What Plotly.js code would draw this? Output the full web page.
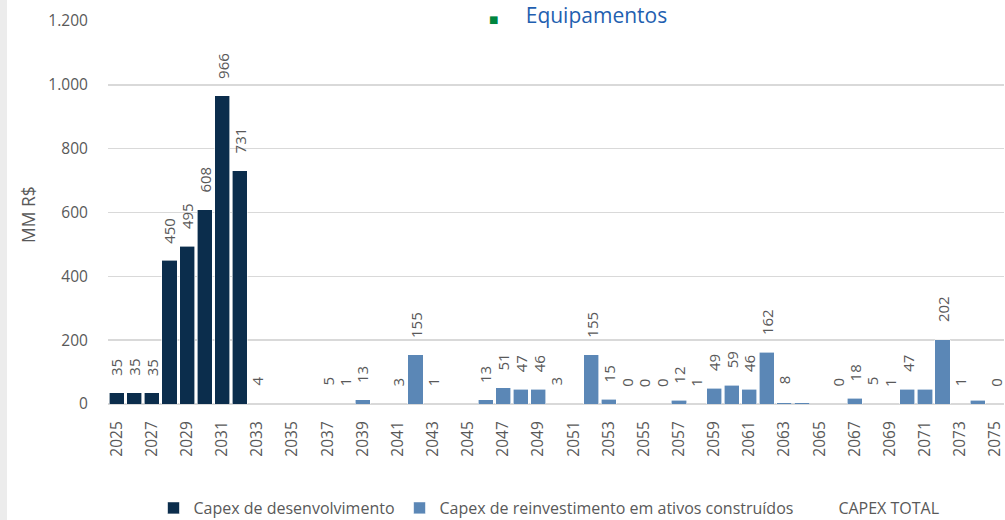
<!DOCTYPE html>
<html>
<head>
<meta charset="utf-8">
<script src="https://cdn.plot.ly/plotly-3.0.1.min.js"></script>
<style>html,body{margin:0;padding:0;background:#fff;}#chart{width:1005px;height:520px;}</style>
</head>
<body>
<div id="chart"></div>
<script>
// Years 2025..2075
const years = [2025,2026,2027,2028,2029,2030,2031,2032,2033,2034,2035,2036,2037,2038,2039,2040,2041,2042,2043,2044,2045,2046,2047,2048,2049,2050,2051,2052,2053,2054,2055,2056,2057,2058,2059,2060,2061,2062,2063,2064,2065,2066,2067,2068,2069,2070,2071,2072,2073,2074,2075];

// Capex de desenvolvimento (dark bars)
const capexDesenvolvimento = [35,35,35,450,495,608,966,731,null,null,null,null,null,null,null,null,null,null,null,null,null,null,null,null,null,null,null,null,null,null,null,null,null,null,null,null,null,null,null,null,null,null,null,null,null,null,null,null,null,null,null];

// Capex de reinvestimento em ativos construídos (light bars)
const capexReinvestimento = [null,null,null,null,null,null,null,null,null,null,null,null,null,null,13,null,null,155,null,null,null,13,51,47,46,null,null,155,15,null,null,null,12,null,49,59,46,162,4,4,null,null,18,null,null,47,47,202,null,12,null];

// CAPEX TOTAL (labels)
const capexTotal = [35,35,35,450,495,608,966,731,4,null,null,null,5,1,13,null,3,155,1,null,null,13,51,47,46,3,null,155,15,0,0,0,12,1,49,59,46,162,8,null,null,0,18,5,1,47,null,202,1,null,0];

const yTicks = [0,200,400,600,800,1000,1200];
const xTicks = years.filter((y,i)=> i % 2 === 0);

const font = '"Open Sans", "DejaVu Sans", sans-serif';
const gray = '#595959';

const annotations = [];
years.forEach((yr,i)=>{
  const v = capexTotal[i];
  if (v === null) return;
  annotations.push({
    x: yr, y: v, xref:'x', yref:'y',
    text: String(v), textangle: -90, showarrow:false,
    xanchor:'center', yanchor:'bottom', yshift: 15,
    font:{family:font, size:15, color:gray}
  });
});
annotations.push({
  xref:'paper', yref:'paper', x:(488-108)/896, y:1 + 21/383, yshift:0,
  text:'<span style="color:#00853e;font-size:10px">■</span>     Equipamentos',
  showarrow:false, xanchor:'left', yanchor:'top', borderpad:0,
  font:{family:font, size:21, color:'#1f5fb0'}
});
annotations.push({
  xref:'paper', yref:'paper', x:(28-108)/896, y:(404-215)/383,
  text:'MM R$', textangle:-90, showarrow:false,
  xanchor:'center', yanchor:'middle',
  font:{family:font, size:17.5, color:gray}
});

const traces = [
  {type:'bar', name:'Capex de desenvolvimento', x:years, y:capexDesenvolvimento,
   marker:{color:'#0b2d4c', line:{color:'#ffffff', width:0.6}}, hoverinfo:'skip'},
  {type:'bar', name:'Capex de reinvestimento em ativos construídos', x:years, y:capexReinvestimento,
   marker:{color:'#5b87b6', line:{color:'#ffffff', width:0.6}}, hoverinfo:'skip'},
  {type:'scatter', mode:'lines', name:'CAPEX TOTAL', x:years, y:capexTotal,
   line:{color:'rgba(0,0,0,0)', width:0}, hoverinfo:'skip'}
];

const layout = {
  width:1005, height:520,
  margin:{l:108, r:1, t:21, b:116, autoexpand:false},
  paper_bgcolor:'#ffffff', plot_bgcolor:'#ffffff',
  separators:',.',
  barmode:'stack', bargap:0.14,
  showlegend:true,
  legend:{orientation:'h', x:(549-108)/896, xanchor:'center', y:-(508-404)/383, yanchor:'middle',
    font:{family:font, size:16, color:gray},
    itemwidth:30, traceorder:'normal'},
  xaxis:{range:[2024.5, 2075.5], tickmode:'array', tickvals:xTicks, ticktext:xTicks.map(String),
    tickangle:-90, ticks:'outside', ticklen:10, tickcolor:'rgba(0,0,0,0)', automargin:false,
    ticklabeloverflow:'allow',
    showgrid:false, zeroline:false, showline:false,
    tickfont:{family:font, size:15.5, color:gray}},
  yaxis:{range:[0,1200], tickmode:'array', tickvals:yTicks, ticktext:yTicks.map(v=>v>=1000?(String(v).slice(0,-3)+'.'+String(v).slice(-3)):String(v)),
    ticks:'outside', ticklen:16, tickcolor:'rgba(0,0,0,0)', automargin:false,
    showgrid:true, gridcolor:'#d9d9d9', gridwidth:1.5, zeroline:true, zerolinecolor:'#d9d9d9', zerolinewidth:1.5,
    showline:false, tickfont:{family:font, size:15.5, color:gray}},
  shapes:[{type:'rect', xref:'paper', yref:'paper', x0:-108/896, x1:-101/896, y0:-0.31, y1:1.06, fillcolor:'#ececec', line:{width:0}, layer:'below'}],
  annotations: annotations
};

Plotly.newPlot('chart', traces, layout, {displayModeBar:false, staticPlot:true});
</script>
</body>
</html>
